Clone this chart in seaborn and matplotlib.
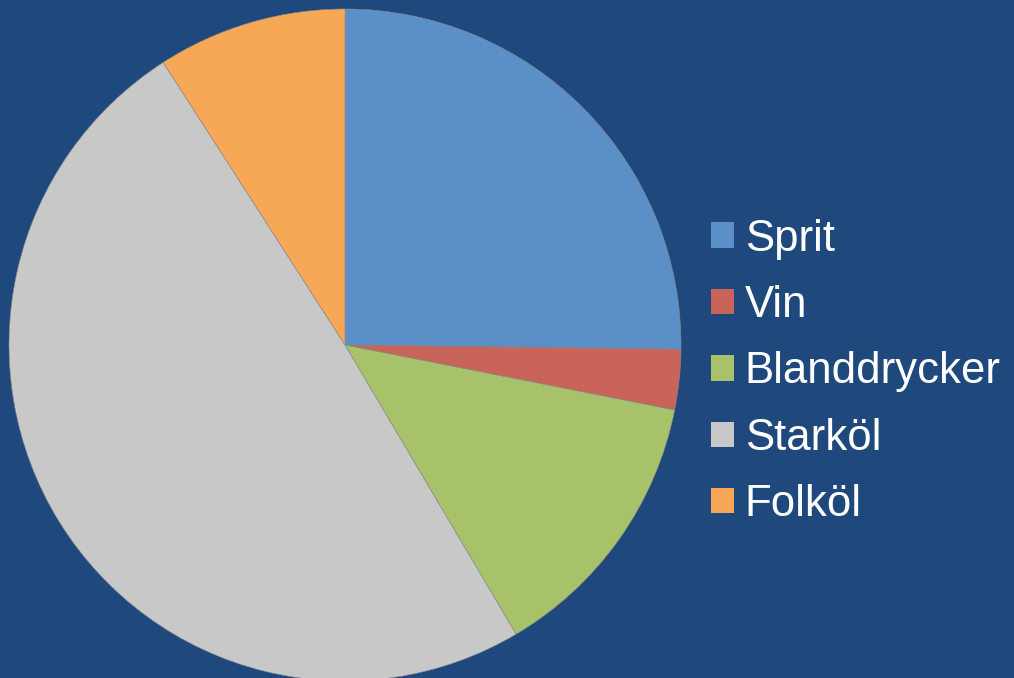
import matplotlib
matplotlib.use("Agg")
import matplotlib.pyplot as plt
import seaborn as sns
from matplotlib.patches import Patch

categories = ["Sprit", "Vin", "Blanddrycker", "Starköl", "Folköl"]
values = [25.2, 2.9, 13.4, 49.4, 9.1]
colors = ["#5B8FC7", "#C9645A", "#A8C26A", "#C8C8C8", "#F7A857"]

sns.set_theme(style="white")
plt.rcParams['font.family'] = ['Liberation Sans', 'DejaVu Sans']
bg = "#1F497D"

fig = plt.figure(figsize=(10.14, 6.78), dpi=100, facecolor=bg)
W, H = 1014, 678
cx, cy, r = 345, 345, 336
ax = fig.add_axes([(cx - r) / W, (H - cy - r) / H, 2 * r / W, 2 * r / H])
ax.set_facecolor(bg)
wedges, _ = ax.pie(values, colors=colors, startangle=90, counterclock=False,
                   radius=1.0, wedgeprops=dict(edgecolor="#8A8A8A", linewidth=0.4))
ax.set_xlim(-1, 1)
ax.set_ylim(-1, 1)
ax.set_aspect("equal")
ax.axis("off")

handles = [Patch(facecolor=c, edgecolor="none") for c in colors]
leg = fig.legend(handles, categories, loc="center left",
                 bbox_to_anchor=(711 / W, 1 - 372 / H), frameon=False,
                 fontsize=31.5, labelcolor="white", handlelength=0.52,
                 handleheight=0.52, handletextpad=0.25, labelspacing=0.58,
                 borderpad=0, borderaxespad=0)

fig.savefig("out.png", dpi=100, facecolor=bg)
